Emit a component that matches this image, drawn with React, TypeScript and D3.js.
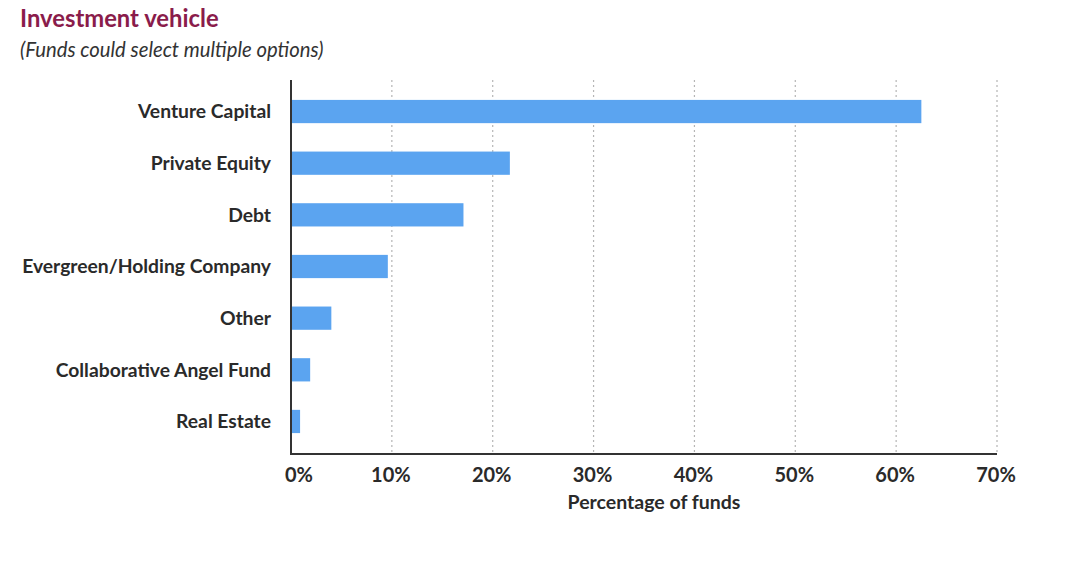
import * as d3 from "d3";

const categories = [
  "Venture Capital",
  "Private Equity",
  "Debt",
  "Evergreen/Holding Company",
  "Other",
  "Collaborative Angel Fund",
  "Real Estate",
];
const shares = [62.5, 21.7, 17.1, 9.6, 4.0, 1.9, 0.9];
const ticks = [0, 10, 20, 30, 40, 50, 60, 70];

const W = 1080;
const H = 579;
const FONT = "Lato, 'Open Sans', sans-serif";

export default function App() {
  const x = d3.scaleLinear().domain([0, 70]).range([291, 997]);
  const y = d3
    .scaleBand()
    .domain(categories)
    .range([85.7, 447.3])
    .paddingInner(0.55)
    .paddingOuter(0.275);
  const top = 80;
  const bottom = 454;

  return (
    <svg width={W} height={H} style={{ position: "absolute", left: 0, top: 0, background: "#fff" }}>
      <text x={20} y={27} fontFamily={FONT} fontWeight={700} fontSize={23.8} fill="#8a1c4b">
        Investment vehicle
      </text>
      <text x={20} y={57} fontFamily={FONT} fontStyle="italic" fontSize={20.3} fill="#333">
        (Funds could select multiple options)
      </text>

      {ticks.slice(1).map((t) => (
        <line
          key={t}
          x1={x(t)}
          x2={x(t)}
          y1={top}
          y2={bottom}
          stroke="#b5b5b5"
          strokeWidth={1.2}
          strokeDasharray="2,3"
        />
      ))}

      {categories.map((c, i) => (
        <rect
          key={c}
          x={x(0)}
          y={y(c)!}
          width={x(shares[i]) - x(0)}
          height={y.bandwidth()}
          fill="#5ba4f0"
        />
      ))}

      <line x1={x(0)} x2={x(0)} y1={top} y2={bottom} stroke="#333" strokeWidth={2} />
      <line x1={x(0) - 1} x2={x(70)} y1={bottom} y2={bottom} stroke="#333" strokeWidth={2} />

      {categories.map((c) => (
        <text
          key={c}
          x={271}
          y={y(c)! + y.bandwidth() / 2}
          dy="0.35em"
          textAnchor="end"
          fontFamily={FONT}
          fontWeight={700}
          fontSize={19.3}
          fill="#2a2a2a"
        >
          {c}
        </text>
      ))}

      {ticks.map((t) => (
        <text
          key={t}
          x={x(t) + (t === 0 ? 8 : -1)}
          y={482}
          textAnchor="middle"
          fontFamily={FONT}
          fontWeight={700}
          fontSize={20}
          fill="#2a2a2a"
        >
          {t}%
        </text>
      ))}

      <text
        x={654}
        y={509}
        textAnchor="middle"
        fontFamily={FONT}
        fontWeight={700}
        fontSize={19.5}
        fill="#2a2a2a"
      >
        Percentage of funds
      </text>
    </svg>
  );
}
